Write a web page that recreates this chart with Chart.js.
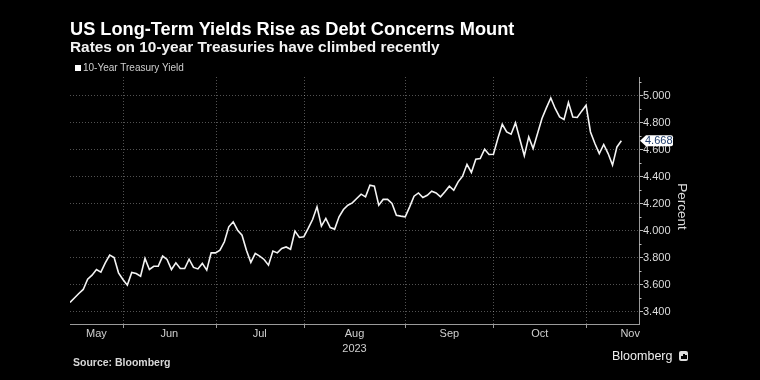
<!DOCTYPE html>
<html><head><meta charset="utf-8">
<script src="https://cdn.jsdelivr.net/npm/chart.js@4/dist/chart.umd.min.js"></script>
<style>
html,body{margin:0;padding:0;background:#000;}
#wrap{position:relative;width:760px;height:380px;background:#000;overflow:hidden;}
#c{position:absolute;left:0;top:0;}
.t{position:absolute;white-space:nowrap;font-family:'Liberation Sans',Arial,sans-serif;line-height:1;}
#title{left:70px;top:20px;font-size:18.2px;font-weight:bold;color:#fff;}
#sub{left:70px;top:39px;font-size:15.4px;font-weight:bold;color:#f2f2f2;}
#legend{left:75px;top:63px;font-size:10px;color:#cfcfcf;}
#legend span.sq{display:inline-block;width:6px;height:6px;background:#fff;margin-right:2px;vertical-align:0px;}
#source{left:73px;top:357px;font-size:10.5px;font-weight:bold;color:#d8d8d8;}
#logo{left:612px;top:350px;font-size:12.5px;color:#eee;}
#icon{position:absolute;left:679px;top:351px;width:9px;height:10px;background:#ddd;border-radius:2px;}
#icon i{position:absolute;bottom:2px;width:1.5px;background:#000;}
</style></head>
<body><div id="wrap">
<canvas id="c" width="760" height="380"></canvas>
<div class="t" id="title">US Long-Term Yields Rise as Debt Concerns Mount</div>
<div class="t" id="sub">Rates on 10-year Treasuries have climbed recently</div>
<div class="t" id="legend"><span class="sq"></span>10-Year Treasury Yield</div>
<div class="t" id="source">Source: Bloomberg</div>
<div class="t" id="logo">Bloomberg</div>
<div id="icon"><i style="left:2px;height:3px"></i><i style="left:4px;height:5px"></i><i style="left:6px;height:4px"></i></div>
</div>
<script>
// 10-year Treasury yield, one value per trading day, 12 May 2023 .. 10 Nov 2023
const yieldValues = [
 3.470,3.503,3.536,3.566,3.642,3.672,3.714,3.694,3.763,3.820,
 3.803,3.689,3.640,3.598,3.692,3.684,3.664,3.796,3.714,3.738,
 3.738,3.813,3.788,3.714,3.763,3.721,3.721,3.790,3.729,3.718,
 3.759,3.709,3.837,3.837,3.857,3.919,4.030,4.067,4.005,3.968,
 3.857,3.766,3.833,3.813,3.788,3.746,3.850,3.837,3.870,3.881,
 3.864,3.998,3.951,3.956,4.018,4.084,4.178,4.035,4.092,4.025,
 4.013,4.104,4.158,4.190,4.207,4.240,4.272,4.252,4.339,4.331,
 4.190,4.233,4.233,4.203,4.116,4.109,4.104,4.178,4.257,4.281,
 4.247,4.264,4.294,4.281,4.252,4.289,4.331,4.301,4.363,4.405,
 4.493,4.433,4.531,4.536,4.605,4.566,4.568,4.684,4.790,4.733,
 4.716,4.800,4.677,4.556,4.696,4.610,4.721,4.833,4.911,4.985,
 4.907,4.844,4.825,4.951,4.844,4.840,4.887,4.931,4.733,4.647,
 4.573,4.640,4.573,4.487,4.622,4.668
];
const seriesName = '10-Year Treasury Yield';
// months on the time axis: label and trading-day index where each month ends
const monthLabels = ['May','Jun','Jul','Aug','Sep','Oct','Nov'];
const monthEnds   = [12, 33, 53, 76, 96, 117, 137];
const yearLabel = '2023';
const yearUnderMonth = 'Aug';
// value axis
const yTickValues = [3.4, 3.6, 3.8, 4.0, 4.2, 4.4, 4.6, 4.8, 5.0];
const yTickLabels = ['3.400','3.600','3.800','4.000','4.200','4.400','4.600','4.800','5.000'];
const yMinorValues = [3.5, 3.7, 3.9, 4.1, 4.3, 4.5, 4.7, 4.9, 5.1];
const yAxisTitle = 'Percent';

const FONT = "'Liberation Sans', Arial, sans-serif";
const monthCenters = monthLabels.map((m, i) => ((i === 0 ? 0 : monthEnds[i - 1]) + monthEnds[i]) / 2);

const decor = {
  id: 'decor',
  beforeDatasetsDraw(chart) {
    const {ctx, chartArea: a, scales: {x, y}} = chart;
    ctx.save();
    // vertical dotted month separators + tick marks
    monthEnds.slice(0, -1).forEach(v => {
      const px = Math.round(x.getPixelForValue(v)) + 0.5;
      ctx.strokeStyle = 'rgba(255,255,255,0.32)';
      ctx.lineWidth = 1;
      ctx.setLineDash([1, 2]);
      ctx.beginPath(); ctx.moveTo(px, a.top); ctx.lineTo(px, a.bottom); ctx.stroke();
      ctx.setLineDash([]);
      ctx.strokeStyle = '#9a9a9a';
      ctx.beginPath(); ctx.moveTo(px, a.bottom); ctx.lineTo(px, a.bottom + 4); ctx.stroke();
    });
    // minor ticks on value axis
    ctx.strokeStyle = '#bdbdbd';
    yMinorValues.forEach(v => {
      const py = Math.round(y.getPixelForValue(v)) + 0.5;
      if (py < a.top || py > a.bottom) return;
      ctx.beginPath(); ctx.moveTo(a.right, py); ctx.lineTo(a.right + 2.5, py); ctx.stroke();
    });
    ctx.restore();
  },
  afterDraw(chart) {
    const {ctx, chartArea: a, scales: {y}} = chart;
    ctx.save();
    // axis title
    ctx.translate(682, (a.top + a.bottom) / 2 + 6);
    ctx.rotate(Math.PI / 2);
    ctx.fillStyle = '#dcdcdc';
    ctx.font = '13.5px ' + FONT;
    ctx.textAlign = 'center'; ctx.textBaseline = 'middle';
    ctx.fillText(yAxisTitle, 0, 0);
    ctx.restore();
    // last value tag
    const last = yieldValues[yieldValues.length - 1];
    const py = y.getPixelForValue(last);
    const x0 = a.right + 1, x1 = x0 + 6, x2 = x0 + 33, h = 11;
    ctx.save();
    ctx.fillStyle = '#ffffff';
    ctx.beginPath();
    ctx.moveTo(x0, py);
    ctx.lineTo(x1, py - h / 2);
    ctx.lineTo(x2 - 2, py - h / 2);
    ctx.quadraticCurveTo(x2, py - h / 2, x2, py - h / 2 + 2);
    ctx.lineTo(x2, py + h / 2 - 2);
    ctx.quadraticCurveTo(x2, py + h / 2, x2 - 2, py + h / 2);
    ctx.lineTo(x1, py + h / 2);
    ctx.closePath();
    ctx.fill();
    ctx.fillStyle = '#23406e';
    ctx.font = '11px ' + FONT;
    ctx.textAlign = 'left'; ctx.textBaseline = 'middle';
    ctx.fillText(last.toFixed(3), x1 - 1, py + 0.5);
    ctx.restore();
  }
};

new Chart(document.getElementById('c'), {
  type: 'line',
  data: {
    datasets: [{
      label: seriesName,
      data: yieldValues.map((v, i) => ({x: i, y: v})),
      borderColor: '#f4f4f4',
      borderWidth: 1.6,
      pointRadius: 0,
      tension: 0,
      fill: false
    }]
  },
  options: {
    responsive: false,
    animation: false,
    devicePixelRatio: 1,
    layout: {padding: {left: 70, top: 77, right: 0, bottom: 0}},
    plugins: {legend: {display: false}, tooltip: {enabled: false}},
    scales: {
      x: {
        type: 'linear', min: 0, max: 129, position: 'bottom',
        afterBuildTicks: s => { s.ticks = monthCenters.map(v => ({value: v})); },
        afterFit: s => { s.height = 56; },
        ticks: {
          autoSkip: false, maxRotation: 0, minRotation: 0, padding: 3, color: '#cfcfcf',
          font: {family: FONT, size: 11, lineHeight: 1.35},
          callback: (v, i) => monthLabels[i] === yearUnderMonth ? [monthLabels[i], yearLabel] : monthLabels[i]
        },
        grid: {display: false, drawTicks: false},
        border: {display: true, color: '#9a9a9a', width: 1}
      },
      y: {
        position: 'right', min: 3.31, max: 5.14,
        afterBuildTicks: s => { s.ticks = yTickValues.map(v => ({value: v})); },
        afterFit: s => { s.width = 121; },
        ticks: {
          padding: 0, color: '#dcdcdc', font: {family: FONT, size: 11},
          callback: (v, i) => yTickLabels[i]
        },
        grid: {color: 'rgba(255,255,255,0.32)', lineWidth: 1, drawTicks: true, tickLength: 4, tickColor: '#bdbdbd'},
        border: {display: true, color: '#9a9a9a', width: 1, dash: [1, 2]}
      }
    }
  },
  plugins: [decor]
});
</script>
</body></html>
